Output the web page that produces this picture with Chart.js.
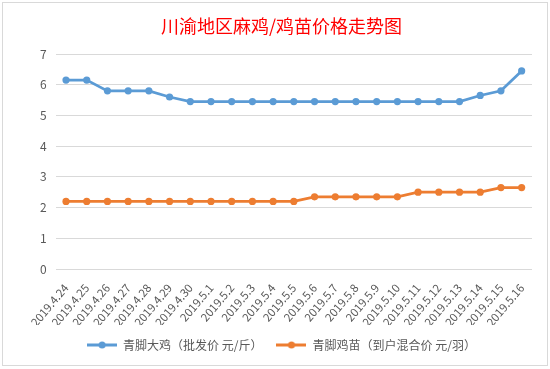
<!DOCTYPE html>
<html>
<head>
<meta charset="utf-8">
<script src="https://cdn.jsdelivr.net/npm/chart.js@4/dist/chart.umd.min.js"></script>
<style>
  html, body { margin: 0; padding: 0; background: #fff; }
  #wrap { position: relative; width: 550px; height: 369px; }
  #chart { position: absolute; left: 0; top: 0; }
  #frame { position: absolute; left: 2px; top: 2px; width: 544px; height: 362px;
           border: 1px solid #d9d9d9; pointer-events: none; }
</style>
</head>
<body>
<div id="wrap">
  <canvas id="chart" width="550" height="369"></canvas>
  <div id="frame"></div>
</div>
<script>
const titleText = '川渝地区麻鸡/鸡苗价格走势图';

const dates = [
  '2019.4.24', '2019.4.25', '2019.4.26', '2019.4.27', '2019.4.28', '2019.4.29', '2019.4.30',
  '2019.5.1', '2019.5.2', '2019.5.3', '2019.5.4', '2019.5.5', '2019.5.6', '2019.5.7',
  '2019.5.8', '2019.5.9', '2019.5.10', '2019.5.11', '2019.5.12', '2019.5.13', '2019.5.14',
  '2019.5.15', '2019.5.16'
];

// 青脚大鸡 批发价 元/斤
const bigChicken = [6.15, 6.15, 5.8, 5.8, 5.8, 5.6, 5.45, 5.45, 5.45, 5.45, 5.45, 5.45,
  5.45, 5.45, 5.45, 5.45, 5.45, 5.45, 5.45, 5.45, 5.65, 5.8, 6.45];

// 青脚鸡苗 到户混合价 元/羽
const chicks = [2.2, 2.2, 2.2, 2.2, 2.2, 2.2, 2.2, 2.2, 2.2, 2.2, 2.2, 2.2,
  2.35, 2.35, 2.35, 2.35, 2.35, 2.5, 2.5, 2.5, 2.5, 2.65, 2.65];

const seriesNames = ['青脚大鸡（批发价 元/斤）', '青脚鸡苗（到户混合价 元/羽）'];
const yTicks = [0, 1, 2, 3, 4, 5, 6, 7];

const BLUE = '#5b9bd5';
const ORANGE = '#ed7d31';
const GREY = '#595959';
const FONT = '"Noto Sans CJK SC", "Noto Sans", sans-serif';

// little line-with-dot marker for the legend
function legendMark(color) {
  const c = document.createElement('canvas');
  c.width = 30; c.height = 10;
  const g = c.getContext('2d');
  g.strokeStyle = color; g.lineWidth = 3;
  g.beginPath(); g.moveTo(0, 5); g.lineTo(30, 5); g.stroke();
  g.fillStyle = color;
  g.beginPath(); g.arc(15, 5, 3.5, 0, Math.PI * 2); g.fill();
  return c;
}
const marks = [legendMark(BLUE), legendMark(ORANGE)];

function line(label, data, color) {
  return {
    label, data,
    borderColor: color, backgroundColor: color,
    borderWidth: 2.75,
    pointRadius: 3.6, pointBorderWidth: 0,
    pointBackgroundColor: color,
    tension: 0
  };
}

new Chart(document.getElementById('chart'), {
  type: 'line',
  data: {
    labels: dates,
    datasets: [
      line(seriesNames[0], bigChicken, BLUE),
      line(seriesNames[1], chicks, ORANGE)
    ]
  },
  options: {
    responsive: false,
    animation: false,
    layout: { padding: { left: 31, right: 18, top: 0, bottom: 8 } },
    plugins: {
      title: {
        display: true,
        text: titleText,
        color: '#ff0000',
        font: { family: FONT, size: 18, weight: 'normal', lineHeight: 1.2 },
        padding: { top: 15, bottom: 17.4 }
      },
      legend: {
        position: 'bottom',
        labels: {
          color: GREY,
          font: { family: FONT, size: 12 },
          usePointStyle: true,
          pointStyleWidth: 30,
          padding: 14,
          generateLabels: chart => chart.data.datasets.map((ds, i) => ({
            text: ds.label,
            pointStyle: marks[i],
            fillStyle: ds.borderColor,
            strokeStyle: ds.borderColor,
            fontColor: GREY,
            lineWidth: 0,
            datasetIndex: i,
            hidden: false
          }))
        }
      },
      tooltip: { enabled: false }
    },
    scales: {
      x: {
        offset: true,
        grid: { display: false, drawTicks: false },
        border: { display: false },
        ticks: {
          color: GREY,
          font: { family: FONT, size: 11.5 },
          autoSkip: false,
          maxRotation: 50, minRotation: 50,
          padding: 12
        },
        afterFit: s => { s.height = 56; }
      },
      y: {
        min: 0, max: 7,
        afterBuildTicks: s => { s.ticks = yTicks.map(v => ({ value: v })); },
        grid: { color: '#d9d9d9', lineWidth: 1, drawTicks: false },
        border: { display: false },
        ticks: {
          color: GREY,
          font: { family: FONT, size: 12 },
          padding: 9
        }
      }
    }
  }
});
</script>
</body>
</html>
